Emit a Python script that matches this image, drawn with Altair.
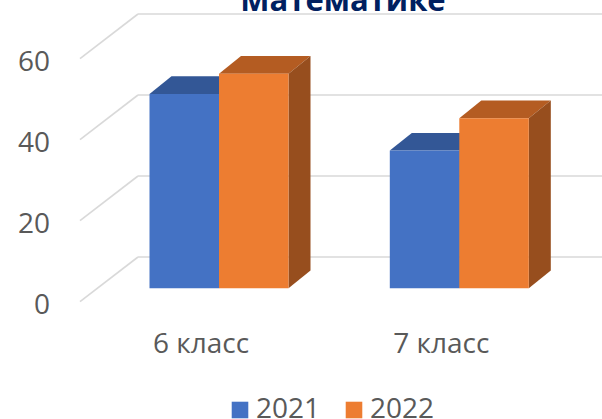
import altair as alt
import pandas as pd

# ---- data ----
categories = ["6 класс", "7 класс"]
series = ["2021", "2022"]
values_2021 = [48, 34]
values_2022 = [53, 42]
ticks = [0, 20, 40, 60]
title_text = "Математике"

# ---- style / layout constants ----
W, H = 602, 419
PX_PER_UNIT = 4.05
ZERO_Y = 288.3                      # pixel y of value 0 on the bar plane
VMIN = -(H - ZERO_Y) / PX_PER_UNIT
VMAX = VMIN + H / PX_PER_UNIT
FRONT_SHIFT = -13.4 / PX_PER_UNIT   # front plane offset (value units)
BACK_SHIFT = 31.3 / PX_PER_UNIT     # back wall offset (value units)
FRONT_X, BACK_X = 80, 138
GROUP_X0, GROUP_STEP = 219, 240.3
BAR_W = 69.5
DX = 22
DY = 17.7 / PX_PER_UNIT

front_cols = {"2021": "#4472C4", "2022": "#ED7D31"}
top_cols = {"2021": "#335796", "2022": "#B45C22"}
side_cols = {"2021": "#2B4A80", "2022": "#974E1E"}
GRID = "#D9D9D9"
TXT = "#595959"
FONT = "Open Sans"

xs = alt.Scale(domain=[0, W], nice=False, zero=False)
ys = alt.Scale(domain=[VMIN, VMAX], nice=False, zero=False)

# ---- tables built from the arrays ----
front_rows, top_rows, side_rows = [], [], []
for i, cat in enumerate(categories):
    center = GROUP_X0 + i * GROUP_STEP
    for j, (s, vals) in enumerate(zip(series, [values_2021, values_2022])):
        v = vals[i]
        xl = center - BAR_W + j * BAR_W
        xr = xl + BAR_W
        bid = f"{cat}-{s}"
        front_rows.append({"cat": cat, "series": s, "xl": xl, "xr": xr, "y0": 0, "v": v})
        for x, lo, hi in [(xl, v, v), (xl + DX, v, v + DY), (xr, v, v + DY), (xr + DX, v + DY, v + DY)]:
            top_rows.append({"bar": bid, "x": x, "lo": lo, "hi": hi, "fill": top_cols[s]})
        for x, lo, hi in [(xr, 0, v), (xr + DX, DY, v + DY)]:
            side_rows.append({"bar": bid, "x": x, "lo": lo, "hi": hi, "fill": side_cols[s]})

front_df = pd.DataFrame(front_rows)
top_df = pd.DataFrame(top_rows)
side_df = pd.DataFrame(side_rows)

grid_df = pd.DataFrame({
    "t": ticks,
    "label": [str(t) for t in ticks],
    "yb": [t + BACK_SHIFT for t in ticks],
    "yf": [t + FRONT_SHIFT for t in ticks],
    "xf": [FRONT_X] * len(ticks),
    "xb": [BACK_X] * len(ticks),
    "xe": [W] * len(ticks),
})

cat_df = pd.DataFrame({
    "cat": categories,
    "x": [GROUP_X0 + i * GROUP_STEP - 18 for i in range(len(categories))],
})

# ---- layers ----
back_lines = alt.Chart(grid_df).mark_rule(color=GRID, strokeWidth=1.6).encode(
    x=alt.X("xb:Q", scale=xs, axis=None), x2="xe:Q",
    y=alt.Y("yb:Q", scale=ys, axis=None),
)
diag_lines = alt.Chart(grid_df).mark_rule(color=GRID, strokeWidth=1.6).encode(
    x=alt.X("xf:Q", scale=xs, axis=None), x2="xb:Q",
    y=alt.Y("yf:Q", scale=ys, axis=None), y2="yb:Q",
)
ylabels = alt.Chart(grid_df).mark_text(
    align="right", baseline="middle", font=FONT, fontSize=28, color=TXT, dy=4
).encode(
    x=alt.value(50),
    y=alt.Y("yf:Q", scale=ys, axis=None),
    text="label:N",
)

tops = alt.Chart(top_df).mark_area(interpolate="linear").encode(
    x=alt.X("x:Q", scale=xs, axis=None),
    y=alt.Y("lo:Q", scale=ys, axis=None, stack=None), y2="hi:Q",
    fill=alt.Fill("fill:N", scale=None),
    detail="bar:N",
)
sides = alt.Chart(side_df).mark_area(interpolate="linear").encode(
    x=alt.X("x:Q", scale=xs, axis=None),
    y=alt.Y("lo:Q", scale=ys, axis=None, stack=None), y2="hi:Q",
    fill=alt.Fill("fill:N", scale=None),
    detail="bar:N",
)
fronts = alt.Chart(front_df).mark_rect().encode(
    x=alt.X("xl:Q", scale=xs, axis=None), x2="xr:Q",
    y=alt.Y("y0:Q", scale=ys, axis=None), y2="v:Q",
    color=alt.Color(
        "series:N",
        scale=alt.Scale(domain=series, range=[front_cols[s] for s in series]),
        legend=alt.Legend(
            title=None, orient="none", legendX=226, legendY=396,
            direction="horizontal", symbolType="square", symbolSize=275,
            symbolStrokeWidth=0, labelFontSize=28, labelFont=FONT,
            labelColor=TXT, labelOffset=2, columnPadding=19, padding=0,
        ),
    ),
)

catlabels = alt.Chart(cat_df).mark_text(
    align="center", baseline="alphabetic", font=FONT, fontSize=28, color=TXT
).encode(
    x=alt.X("x:Q", scale=xs, axis=None),
    y=alt.value(353),
    text="cat:N",
)

title = alt.Chart(pd.DataFrame({"t": [title_text]})).mark_text(
    align="center", baseline="alphabetic", font=FONT, fontSize=31,
    fontWeight="bold", color="#002060"
).encode(x=alt.value(343), y=alt.value(11), text="t:N")

chart = alt.layer(
    back_lines, diag_lines, ylabels, tops, sides, fronts, catlabels, title
).properties(
    width=W, height=H, padding=0, autosize=alt.AutoSizeParams(type="none"),
    background="white",
).configure_view(stroke=None)

chart.save("out.html", embed_options={"renderer": "svg", "actions": False})
